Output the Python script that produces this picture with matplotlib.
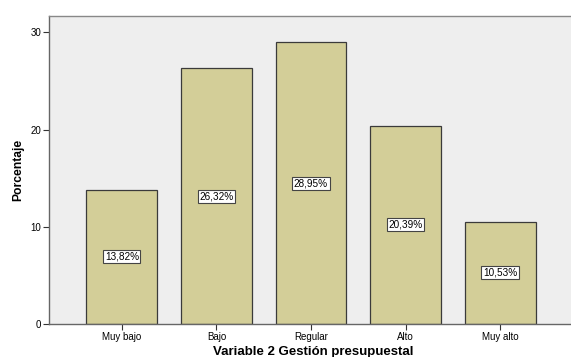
import matplotlib
matplotlib.use('Agg')
import matplotlib.pyplot as plt

plt.rcParams['font.family'] = ['Liberation Sans', 'DejaVu Sans']

categorias = ['Muy bajo', 'Bajo', 'Regular', 'Alto', 'Muy alto']
porcentajes = [13.82, 26.32, 28.95, 20.39, 10.53]
etiquetas = ['13,82%', '26,32%', '28,95%', '20,39%', '10,53%']


def main():
    fig = plt.figure(figsize=(5.71, 3.57), dpi=100)
    ax = fig.add_axes([0.086, 0.092, 0.914, 0.864])
    ax.set_facecolor('#eeeeee')

    x = range(len(categorias))
    ax.bar(x, porcentajes, width=0.75, color='#d3ce98',
           edgecolor='#3a3a3a', linewidth=0.9, zorder=2)

    # porcentaje en el centro de cada barra
    for xi, v, txt in zip(x, porcentajes, etiquetas):
        ax.text(xi, v / 2, txt, ha='center', va='center', fontsize=7.2,
                bbox=dict(boxstyle='square,pad=0.15', fc='white',
                          ec='#444444', lw=0.8), zorder=3)

    ax.set_xlim(-0.77, 4.75)
    ax.set_ylim(0, 31.7)
    ax.set_yticks([0, 10, 20, 30])
    ax.set_xticks(list(x))
    ax.set_xticklabels(categorias)
    ax.tick_params(axis='both', labelsize=7, length=4, width=0.8,
                   color='#333333', pad=1.5)

    ax.spines['right'].set_visible(False)
    ax.spines['top'].set_color('#888888')
    ax.spines['left'].set_color('#666666')
    ax.spines['bottom'].set_color('#666666')
    for s in ax.spines.values():
        s.set_linewidth(1.0)

    ax.set_ylabel('Porcentaje', fontsize=8.7, fontweight='bold', labelpad=5)
    fig.text(0.548, 0.007, 'Variable 2 Gestión presupuestal', fontsize=9.5,
             fontweight='bold', ha='center', va='baseline')

    fig.savefig('out.png', dpi=100)
    plt.close(fig)


if __name__ == '__main__':
    main()
